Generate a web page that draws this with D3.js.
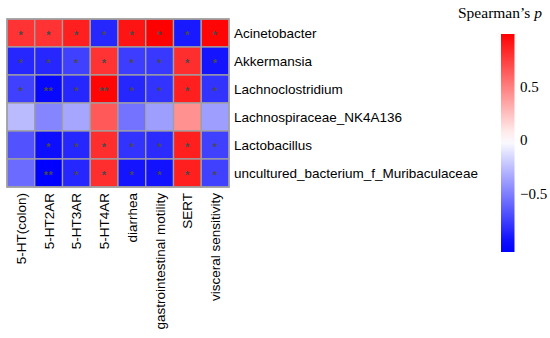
<!DOCTYPE html>
<html><head><meta charset="utf-8">
<script src="https://cdn.jsdelivr.net/npm/d3@7"></script>
<style>body{margin:0;background:#fff}svg{display:block}</style>
</head><body>
<svg id="c" width="550" height="338"></svg>
<script>
const rows = ["Acinetobacter","Akkermansia","Lachnoclostridium","Lachnospiraceae_NK4A136","Lactobacillus","uncultured_bacterium_f_Muribaculaceae"];
const cols = ["5-HT(colon)","5-HT2AR","5-HT3AR","5-HT4AR","diarrhea","gastrointestinal motility","SERT","visceral sensitivity"];
const values = [
  [0.80, 0.80, 0.88, -0.85, 0.92, 1.00, -0.90, 0.98],
  [-0.85, -0.85, -0.75, 0.80, -0.76, -0.78, 0.82, -0.92],
  [-0.75, -0.97, -0.85, 0.98, -0.85, -0.80, 0.88, -0.80],
  [-0.27, -0.48, -0.35, 0.65, -0.55, -0.38, 0.43, -0.38],
  [-0.68, -0.95, -0.85, 0.82, -0.80, -0.83, 0.88, -0.75],
  [-0.58, -1.00, -0.85, 0.82, -0.92, -0.93, 0.88, -0.75]
];
const stars = [
  ["*","*","*","*","*","*","*","*"],
  ["*","*","*","*","*","*","*","*"],
  ["*","**","*","**","*","*","*","*"],
  ["","","","","","","",""],
  ["","*","*","*","*","*","*","*"],
  ["","**","*","*","*","*","*","*"]
];
const legendTicks = [0.5, 0, -0.5];

const svg = d3.select("#c");
const color = d3.scaleLinear().domain([-1,0,1]).range(["#0000ff","#ffffff","#ff0000"]).clamp(true);
const x = d3.scaleBand().domain(cols).range([7,229]);
const y = d3.scaleBand().domain(rows).range([19,187]);

const g = svg.append("g");
rows.forEach((r,i)=>{
  cols.forEach((c,j)=>{
    g.append("rect").attr("x",x(c)).attr("y",y(r)).attr("width",x.bandwidth()).attr("height",y.bandwidth())
      .attr("fill",color(values[i][j])).attr("stroke","#a0a0a0").attr("stroke-width",1.3);
    if(stars[i][j]) g.append("text").attr("x",x(c)+x.bandwidth()/2).attr("y",y(r)+y.bandwidth()/2+6)
      .attr("text-anchor","middle").attr("font-family","Liberation Sans, Arial, sans-serif").attr("font-size",11).attr("font-weight","bold")
      .attr("letter-spacing",0.6)
      .attr("fill","#4a4a4a").text(stars[i][j]);
  });
});
g.append("rect").attr("x",7).attr("y",19).attr("width",222).attr("height",168).attr("fill","none").attr("stroke","#a0a0a0").attr("stroke-width",1.5);

rows.forEach(r=>{
  svg.append("text").attr("x",234).attr("y",y(r)+y.bandwidth()/2+5)
    .attr("font-family","Liberation Sans, Arial, sans-serif").attr("font-size",13.5).attr("fill","#000").text(r);
});
cols.forEach(c=>{
  const cx = x(c)+x.bandwidth()/2;
  svg.append("text").attr("transform",`translate(${cx+5},193) rotate(-90)`)
    .attr("text-anchor","end").attr("font-family","Liberation Sans, Arial, sans-serif").attr("font-size",13.5).attr("fill","#000").text(c);
});

// legend
const ly = d3.scaleLinear().domain([1,-1.05]).range([34,252]);
const defs = svg.append("defs");
const grad = defs.append("linearGradient").attr("id","lg").attr("x1",0).attr("y1",0).attr("x2",0).attr("y2",1);
d3.range(0,1.0001,0.05).forEach(t=>{
  const v = 1 - t*2.05;
  grad.append("stop").attr("offset",t).attr("stop-color",color(v));
});
svg.append("rect").attr("x",501).attr("y",ly(1)).attr("width",13.5).attr("height",ly(-1.05)-ly(1)).attr("fill","url(#lg)");
legendTicks.forEach(t=>{
  svg.append("text").attr("x",520).attr("y",ly(t)+5).attr("font-family","Liberation Serif, Times New Roman, serif")
    .attr("font-size",15).attr("fill","#000").text(t<0?"\u2212"+Math.abs(t):String(t));
});
const title = svg.append("text").attr("x",458).attr("y",18).attr("font-family","Liberation Serif, Times New Roman, serif").attr("font-size",15.5).attr("fill","#000");
title.append("tspan").text("Spearman\u2019s ");
title.append("tspan").attr("font-style","italic").text("p");
</script>
</body></html>
